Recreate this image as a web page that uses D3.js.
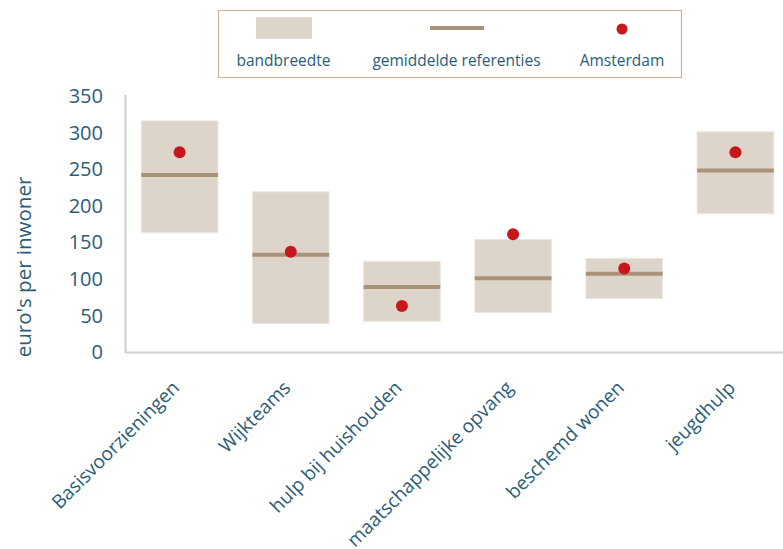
<!DOCTYPE html>
<html><head><meta charset="utf-8">
<script src="https://cdn.jsdelivr.net/npm/d3@7"></script>
<style>
body{margin:0;background:#fff;}
svg{display:block;}
text{font-family:"Open Sans",sans-serif;}
</style></head>
<body><svg id="c" width="783" height="549"></svg>
<script>
const categories = ["Basisvoorzieningen","Wijkteams","hulp bij huishouden","maatschappelijke opvang","beschemd wonen","jeugdhulp"];
const bandLow  = [163, 39, 42, 54, 73, 189];
const bandHigh = [316, 219, 124, 154, 128, 301];
const meanRef  = [242, 133, 89, 101, 107, 248];
const amsterdam = [273, 137, 63, 161, 114, 273];
const yTicks = [0,50,100,150,200,250,300,350];
const legendLabels = ["bandbreedte","gemiddelde referenties","Amsterdam"];

const textCol = "#2b5d78";
const svg = d3.select("#c");
const x = d3.scaleBand().domain(categories).range([124,791]).paddingInner(0.31).paddingOuter(0.155);
const y = d3.scaleLinear().domain([0,350]).range([352,96]);

// axes lines
svg.append("line").attr("x1",125.5).attr("x2",125.5).attr("y1",95).attr("y2",353).attr("stroke","#cfcfcf").attr("stroke-width",2);
svg.append("line").attr("x1",125).attr("x2",783).attr("y1",y(0)+0.5).attr("y2",y(0)+0.5).attr("stroke","#cfcfcf").attr("stroke-width",2);

// y tick labels
svg.append("g").selectAll("text").data(yTicks).join("text")
  .attr("x",103).attr("y",d=>y(d)).attr("dy","0.36em").attr("text-anchor","end")
  .attr("font-size",20).attr("fill",textCol).text(d=>d);

// y title
svg.append("text").attr("transform","translate(31,267) rotate(-90)").attr("text-anchor","middle")
  .attr("font-size",20.5).attr("fill",textCol).text("euro's per inwoner");

const data = categories.map((c,i)=>({c,lo:bandLow[i],hi:bandHigh[i],m:meanRef[i],a:amsterdam[i]}));
// bands
svg.append("g").selectAll("rect").data(data).join("rect")
  .attr("x",d=>x(d.c)).attr("width",x.bandwidth())
  .attr("y",d=>y(d.hi)).attr("height",d=>y(d.lo)-y(d.hi))
  .attr("fill","#ddd5ca").attr("stroke","#ece7e0").attr("stroke-width",1);
// mean lines
svg.append("g").selectAll("line").data(data).join("line")
  .attr("x1",d=>x(d.c)).attr("x2",d=>x(d.c)+x.bandwidth())
  .attr("y1",d=>y(d.m)).attr("y2",d=>y(d.m))
  .attr("stroke","#a8927a").attr("stroke-width",4);
// dots
svg.append("g").selectAll("circle").data(data).join("circle")
  .attr("cx",d=>x(d.c)+x.bandwidth()/2).attr("cy",d=>y(d.a)).attr("r",6)
  .attr("fill","#c8161d");

// x labels
svg.append("g").selectAll("text").data(categories).join("text")
  .attr("transform",d=>`translate(${x(d)+x.bandwidth()/2+1},${389}) rotate(-45)`)
  .attr("text-anchor","end").attr("font-size",19).attr("fill",textCol).text(d=>d);

// legend
const lg = svg.append("g");
lg.append("rect").attr("x",218.5).attr("y",10.5).attr("width",463).attr("height",67)
  .attr("fill","#fff").attr("stroke","#c9b59c").attr("stroke-width",1.2);
lg.append("rect").attr("x",256).attr("y",17).attr("width",56).attr("height",22).attr("fill","#ddd5ca");
lg.append("line").attr("x1",430).attr("x2",484).attr("y1",28).attr("y2",28).attr("stroke","#a8927a").attr("stroke-width",4);
lg.append("circle").attr("cx",622).attr("cy",29).attr("r",5.5).attr("fill","#c8161d");
const lx = [283.5, 456.5, 622];
lg.selectAll("text.l").data(legendLabels).join("text").attr("class","l")
  .attr("x",(d,i)=>lx[i]).attr("y",66).attr("text-anchor","middle")
  .attr("font-size",15.5).attr("fill",textCol).text(d=>d);
</script></body></html>
